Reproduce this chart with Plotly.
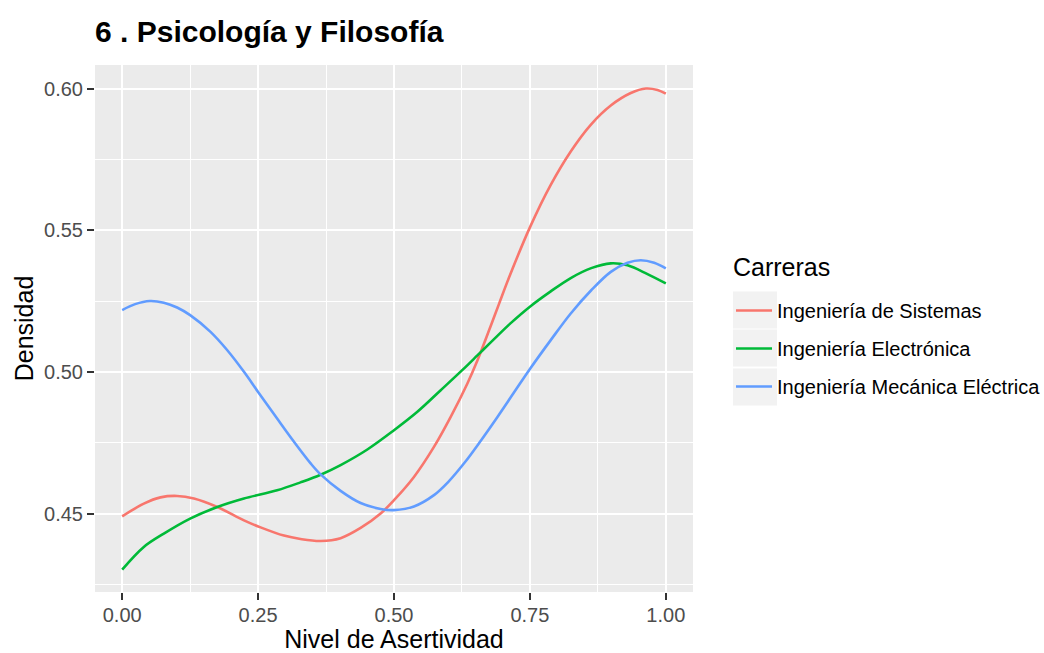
import plotly.graph_objects as go

# ---- data ----
series_names = ["Ingeniería de Sistemas", "Ingeniería Electrónica", "Ingeniería Mecánica Eléctrica"]
series_colors = ["#F8766D", "#00BA38", "#619CFF"]

x_sis = [0.0, 0.0398, 0.0705, 0.101, 0.132, 0.175, 0.224, 0.2546, 0.2975, 0.328, 0.365, 0.4018,
         0.4386, 0.4754, 0.5, 0.5367, 0.5735, 0.6043, 0.635, 0.6534, 0.6779, 0.6932, 0.7147, 0.75,
         0.7883, 0.8251, 0.8619, 0.8988, 0.9356, 0.9632, 0.9847, 1.0]
y_sis = [0.4490, 0.4535, 0.4557, 0.4562, 0.4553, 0.4523, 0.4476, 0.4451, 0.4422, 0.4410, 0.4403, 0.4413,
         0.4449, 0.4500, 0.4547, 0.4629, 0.4735, 0.4841, 0.4959, 0.5040, 0.5162, 0.5240, 0.5348, 0.5510,
         0.5660, 0.5778, 0.5872, 0.5940, 0.5984, 0.6000, 0.5995, 0.5982]

x_ele = [0.0, 0.0398, 0.0766, 0.125, 0.175, 0.224, 0.285, 0.328, 0.365, 0.4018, 0.451, 0.5, 0.543,
         0.5859, 0.625, 0.6534, 0.6779, 0.7147, 0.75, 0.7883, 0.8251, 0.8628, 0.8988, 0.9295, 0.9663, 1.0]
y_ele = [0.4302, 0.4382, 0.4429, 0.4482, 0.4523, 0.4553, 0.4582, 0.4610, 0.4637, 0.4671, 0.4726, 0.4794, 0.4859,
         0.4935, 0.5005, 0.5058, 0.5104, 0.5172, 0.5230, 0.5284, 0.5331, 0.5366, 0.5383, 0.5376, 0.5345, 0.5312]

x_mec = [0.0, 0.0239, 0.0508, 0.0766, 0.101, 0.125, 0.1625, 0.193, 0.224, 0.25, 0.285, 0.316, 0.3466,
         0.365, 0.4018, 0.4386, 0.4754, 0.5, 0.5367, 0.5735, 0.6, 0.63, 0.66, 0.69, 0.72, 0.75, 0.7883,
         0.8251, 0.8628, 0.8988, 0.9295, 0.954, 0.9785, 1.0]
y_mec = [0.5218, 0.5239, 0.5250, 0.5244, 0.5227, 0.5200, 0.5141, 0.5077, 0.5000, 0.4929, 0.4835, 0.4753, 0.4677,
         0.4638, 0.4580, 0.4537, 0.4516, 0.4512, 0.4525, 0.4565, 0.4612, 0.4680, 0.4758, 0.4840, 0.4925, 0.5010, 0.5112,
         0.5206, 0.5288, 0.5353, 0.5385, 0.5394, 0.5385, 0.5365]

x_ticks = [0.0, 0.25, 0.5, 0.75, 1.0]
x_tick_labels = ["0.00", "0.25", "0.50", "0.75", "1.00"]
y_ticks = [0.45, 0.50, 0.55, 0.60]
y_tick_labels = ["0.45", "0.50", "0.55", "0.60"]
x_minor = [0.125, 0.375, 0.625, 0.875]
y_minor = [0.425, 0.475, 0.525, 0.575]

FONT = "Liberation Sans, Arial, sans-serif"

fig = go.Figure()
for name, color, xs, ys in zip(series_names, series_colors,
                               [x_sis, x_ele, x_mec], [y_sis, y_ele, y_mec]):
    fig.add_trace(go.Scatter(x=xs, y=ys, mode="lines", name=name, legendgroup=name,
                             line=dict(color=color, width=2.6, shape="spline", smoothing=1.0)))

W, H = 1044, 653
L, R, T, B = 95, 1044 - 693, 65, 653 - 592
pw, ph = W - L - R, H - T - B


def px_to_paper_x(px):
    return (px - L) / pw


def px_to_paper_y(py):
    return (H - B - py) / ph


shapes = []
for (y0, y1) in [(291.5, 328.5), (329.5, 366.5), (368.5, 405.5)]:
    shapes.append(dict(type="rect", xref="paper", yref="paper",
                       x0=px_to_paper_x(733), x1=px_to_paper_x(777),
                       y0=px_to_paper_y(y1), y1=px_to_paper_y(y0),
                       fillcolor="#F2F2F2", line=dict(width=0), layer="below"))

fig.update_layout(
    width=W, height=H,
    margin=dict(l=L, r=R, t=T, b=B, autoexpand=False),
    paper_bgcolor="white",
    plot_bgcolor="#EBEBEB",
    font=dict(family=FONT, color="#000000"),
    title=dict(text="<b>6 . Psicología y Filosofía</b>", font=dict(size=30, color="black", family=FONT),
               x=0, xref="paper", xanchor="left", y=1 - 31 / H, yref="container", yanchor="middle"),
    xaxis=dict(range=[-0.05, 1.05], tickvals=x_ticks, ticktext=x_tick_labels, automargin=False,
               showgrid=True, gridcolor="white", gridwidth=2, zeroline=False,
               ticks="outside", ticklen=7, tickwidth=1.5, tickcolor="#333333",
               tickfont=dict(size=20, color="#4D4D4D"), ticklabelstandoff=-2,
               minor=dict(tickvals=x_minor, showgrid=True, gridcolor="white", gridwidth=1, ticks=""),
               title=dict(text="Nivel de Asertividad", font=dict(size=25, color="black"), standoff=7),
               showline=False),
    yaxis=dict(range=[0.4223, 0.6083], tickvals=y_ticks, ticktext=y_tick_labels, automargin=False,
               showgrid=True, gridcolor="white", gridwidth=2, zeroline=False,
               ticks="outside", ticklen=7, tickwidth=1.5, tickcolor="#333333",
               tickfont=dict(size=20, color="#4D4D4D"),
               minor=dict(tickvals=y_minor, showgrid=True, gridcolor="white", gridwidth=1, ticks=""),
               title=dict(text="Densidad", font=dict(size=25, color="black"), standoff=3),
               showline=False),
    legend=dict(font=dict(size=20, color="black"),
                x=px_to_paper_x(731), xanchor="left",
                y=px_to_paper_y(291), yanchor="top",
                bgcolor="rgba(0,0,0,0)", tracegroupgap=9, traceorder="grouped",
                itemwidth=36),
    annotations=[dict(text="Carreras", xref="paper", yref="paper",
                      x=px_to_paper_x(731), y=px_to_paper_y(267), xanchor="left", yanchor="middle",
                      showarrow=False, font=dict(size=25, color="black"))],
    shapes=shapes,
)

fig.write_html("out.html", config={"displayModeBar": False},
               post_script="document.body.style.margin='0';document.body.style.padding='0';")
